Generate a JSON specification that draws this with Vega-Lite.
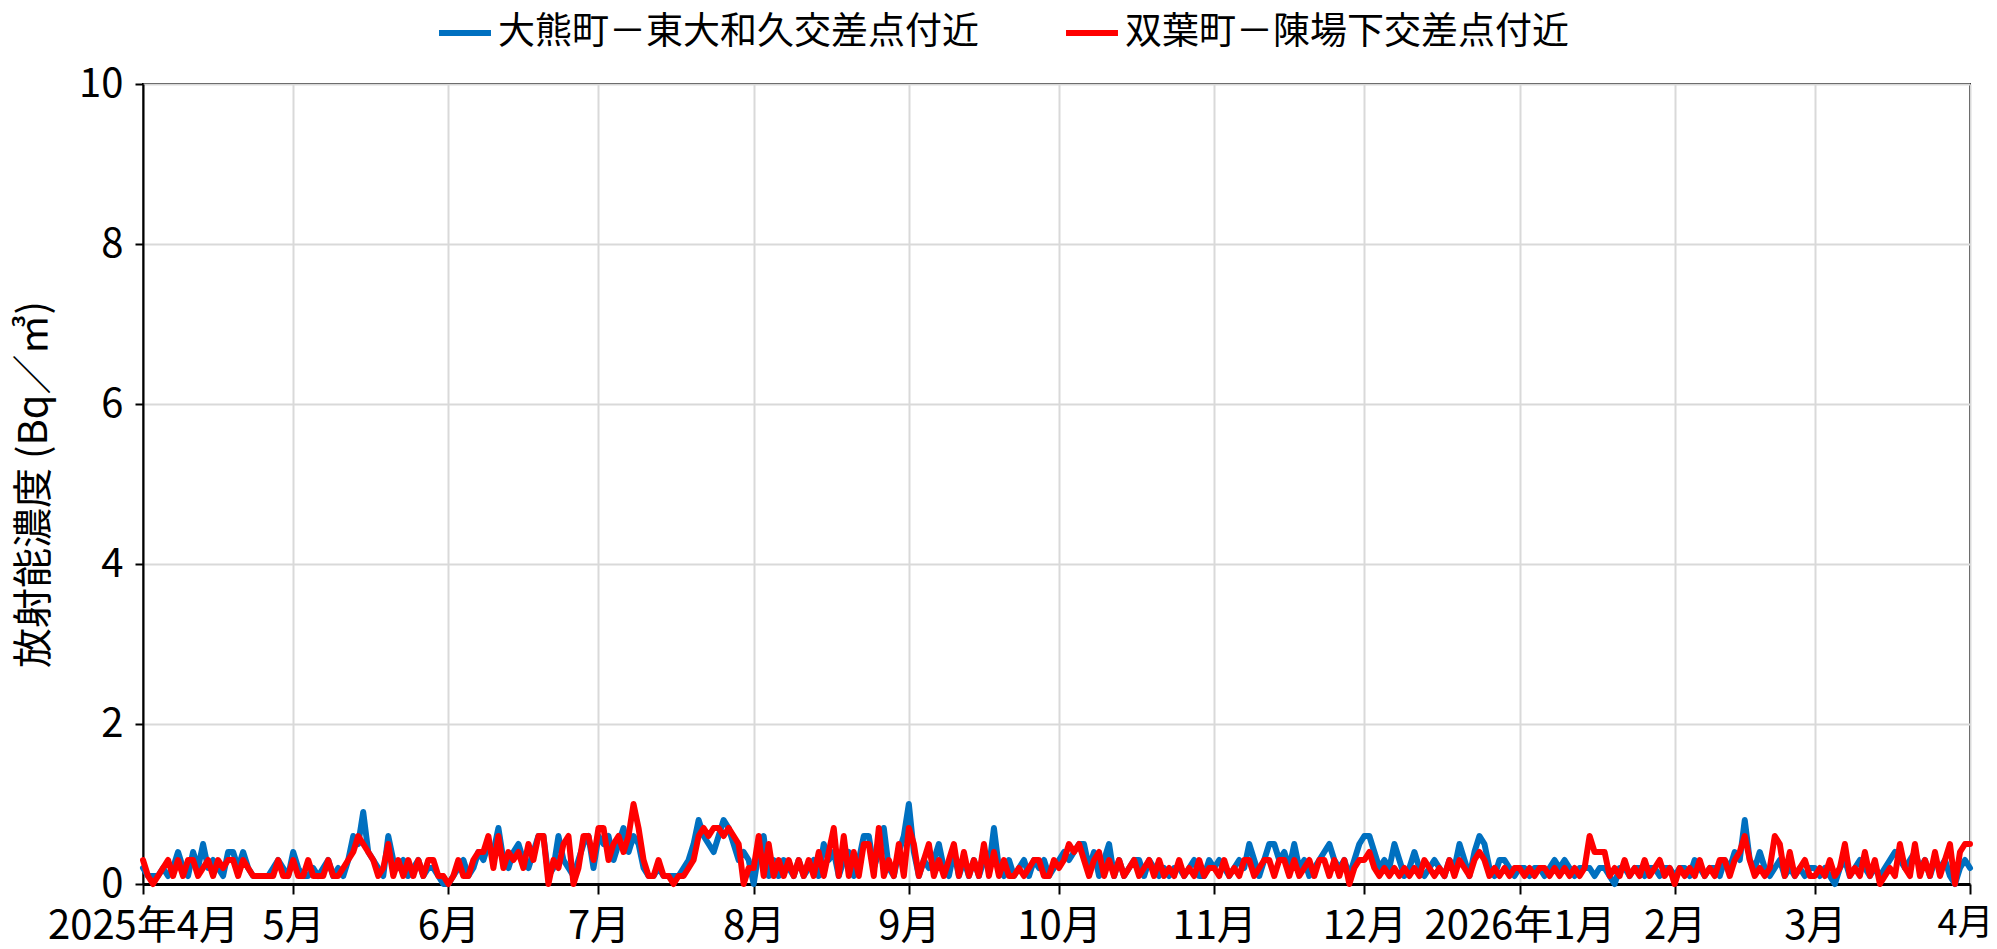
{
 "$schema": "https://vega.github.io/schema/vega-lite/v6.json",
 "width": 1827, "height": 800,
 "autosize": {"type": "none"},
 "padding": {"left": 143, "top": 84, "right": 27, "bottom": 65},
 "background": "white",
 "config": {"font": "Noto Sans CJK JP", "view": {"stroke": "#000000", "strokeWidth": 2}},
 "data": {"values": [
{"d":"2025/04/01","a":0.2,"b":0.3},{"d":"2025/04/02","a":0.1,"b":0.1},{"d":"2025/04/03","a":0.1,"b":0.0},{"d":"2025/04/04","a":0.1,"b":0.1},{"d":"2025/04/05","a":0.2,"b":0.2},{"d":"2025/04/06","a":0.1,"b":0.3},{"d":"2025/04/07","a":0.2,"b":0.1},{"d":"2025/04/08","a":0.4,"b":0.3},{"d":"2025/04/09","a":0.2,"b":0.1},{"d":"2025/04/10","a":0.1,"b":0.3},
{"d":"2025/04/11","a":0.4,"b":0.3},{"d":"2025/04/12","a":0.2,"b":0.1},{"d":"2025/04/13","a":0.5,"b":0.2},{"d":"2025/04/14","a":0.2,"b":0.3},{"d":"2025/04/15","a":0.3,"b":0.1},{"d":"2025/04/16","a":0.2,"b":0.3},{"d":"2025/04/17","a":0.1,"b":0.2},{"d":"2025/04/18","a":0.4,"b":0.3},{"d":"2025/04/19","a":0.4,"b":0.3},{"d":"2025/04/20","a":0.2,"b":0.1},
{"d":"2025/04/21","a":0.4,"b":0.3},{"d":"2025/04/22","a":0.2,"b":0.2},{"d":"2025/04/23","a":0.1,"b":0.1},{"d":"2025/04/24","a":0.1,"b":0.1},{"d":"2025/04/25","a":0.1,"b":0.1},{"d":"2025/04/26","a":0.1,"b":0.1},{"d":"2025/04/27","a":0.2,"b":0.1},{"d":"2025/04/28","a":0.3,"b":0.3},{"d":"2025/04/29","a":0.2,"b":0.1},{"d":"2025/04/30","a":0.1,"b":0.1},
{"d":"2025/05/01","a":0.4,"b":0.3},{"d":"2025/05/02","a":0.2,"b":0.1},{"d":"2025/05/03","a":0.1,"b":0.1},{"d":"2025/05/04","a":0.1,"b":0.3},{"d":"2025/05/05","a":0.2,"b":0.1},{"d":"2025/05/06","a":0.1,"b":0.1},{"d":"2025/05/07","a":0.2,"b":0.1},{"d":"2025/05/08","a":0.3,"b":0.3},{"d":"2025/05/09","a":0.1,"b":0.1},{"d":"2025/05/10","a":0.2,"b":0.1},
{"d":"2025/05/11","a":0.1,"b":0.2},{"d":"2025/05/12","a":0.3,"b":0.3},{"d":"2025/05/13","a":0.6,"b":0.4},{"d":"2025/05/14","a":0.5,"b":0.6},{"d":"2025/05/15","a":0.9,"b":0.5},{"d":"2025/05/16","a":0.4,"b":0.4},{"d":"2025/05/17","a":0.3,"b":0.3},{"d":"2025/05/18","a":0.2,"b":0.1},{"d":"2025/05/19","a":0.1,"b":0.2},{"d":"2025/05/20","a":0.6,"b":0.5},
{"d":"2025/05/21","a":0.3,"b":0.1},{"d":"2025/05/22","a":0.2,"b":0.3},{"d":"2025/05/23","a":0.3,"b":0.1},{"d":"2025/05/24","a":0.1,"b":0.3},{"d":"2025/05/25","a":0.2,"b":0.1},{"d":"2025/05/26","a":0.3,"b":0.3},{"d":"2025/05/27","a":0.1,"b":0.1},{"d":"2025/05/28","a":0.2,"b":0.3},{"d":"2025/05/29","a":0.2,"b":0.3},{"d":"2025/05/30","a":0.1,"b":0.1},
{"d":"2025/05/31","a":0.0,"b":0.1},
{"d":"2025/06/01","a":0.0,"b":0.0},{"d":"2025/06/02","a":0.1,"b":0.1},{"d":"2025/06/03","a":0.2,"b":0.3},{"d":"2025/06/04","a":0.3,"b":0.1},{"d":"2025/06/05","a":0.1,"b":0.1},{"d":"2025/06/06","a":0.2,"b":0.3},{"d":"2025/06/07","a":0.4,"b":0.4},{"d":"2025/06/08","a":0.3,"b":0.4},{"d":"2025/06/09","a":0.5,"b":0.6},{"d":"2025/06/10","a":0.4,"b":0.2},
{"d":"2025/06/11","a":0.7,"b":0.6},{"d":"2025/06/12","a":0.3,"b":0.2},{"d":"2025/06/13","a":0.2,"b":0.4},{"d":"2025/06/14","a":0.4,"b":0.3},{"d":"2025/06/15","a":0.5,"b":0.4},{"d":"2025/06/16","a":0.3,"b":0.2},{"d":"2025/06/17","a":0.2,"b":0.5},{"d":"2025/06/18","a":0.4,"b":0.3},{"d":"2025/06/19","a":0.6,"b":0.6},{"d":"2025/06/20","a":0.6,"b":0.6},
{"d":"2025/06/21","a":0.1,"b":0.0},{"d":"2025/06/22","a":0.2,"b":0.3},{"d":"2025/06/23","a":0.6,"b":0.2},{"d":"2025/06/24","a":0.3,"b":0.5},{"d":"2025/06/25","a":0.2,"b":0.6},{"d":"2025/06/26","a":0.1,"b":0.0},{"d":"2025/06/27","a":0.3,"b":0.2},{"d":"2025/06/28","a":0.5,"b":0.6},{"d":"2025/06/29","a":0.6,"b":0.6},{"d":"2025/06/30","a":0.2,"b":0.3},
{"d":"2025/07/01","a":0.6,"b":0.7},{"d":"2025/07/02","a":0.5,"b":0.7},{"d":"2025/07/03","a":0.6,"b":0.3},{"d":"2025/07/04","a":0.3,"b":0.5},{"d":"2025/07/05","a":0.5,"b":0.6},{"d":"2025/07/06","a":0.7,"b":0.4},{"d":"2025/07/07","a":0.4,"b":0.6},{"d":"2025/07/08","a":0.6,"b":1.0},{"d":"2025/07/09","a":0.5,"b":0.7},{"d":"2025/07/10","a":0.2,"b":0.3},
{"d":"2025/07/11","a":0.1,"b":0.1},{"d":"2025/07/12","a":0.1,"b":0.1},{"d":"2025/07/13","a":0.2,"b":0.3},{"d":"2025/07/14","a":0.1,"b":0.1},{"d":"2025/07/15","a":0.1,"b":0.1},{"d":"2025/07/16","a":0.1,"b":0.0},{"d":"2025/07/17","a":0.1,"b":0.1},{"d":"2025/07/18","a":0.2,"b":0.1},{"d":"2025/07/19","a":0.3,"b":0.2},{"d":"2025/07/20","a":0.5,"b":0.3},
{"d":"2025/07/21","a":0.8,"b":0.6},{"d":"2025/07/22","a":0.6,"b":0.7},{"d":"2025/07/23","a":0.5,"b":0.6},{"d":"2025/07/24","a":0.4,"b":0.7},{"d":"2025/07/25","a":0.6,"b":0.7},{"d":"2025/07/26","a":0.8,"b":0.6},{"d":"2025/07/27","a":0.7,"b":0.7},{"d":"2025/07/28","a":0.5,"b":0.6},{"d":"2025/07/29","a":0.3,"b":0.5},{"d":"2025/07/30","a":0.4,"b":0.0},
{"d":"2025/07/31","a":0.3,"b":0.2},
{"d":"2025/08/01","a":0.0,"b":0.2},{"d":"2025/08/02","a":0.4,"b":0.6},{"d":"2025/08/03","a":0.6,"b":0.1},{"d":"2025/08/04","a":0.1,"b":0.5},{"d":"2025/08/05","a":0.3,"b":0.1},{"d":"2025/08/06","a":0.1,"b":0.3},{"d":"2025/08/07","a":0.3,"b":0.1},{"d":"2025/08/08","a":0.2,"b":0.3},{"d":"2025/08/09","a":0.1,"b":0.1},{"d":"2025/08/10","a":0.3,"b":0.3},
{"d":"2025/08/11","a":0.1,"b":0.1},{"d":"2025/08/12","a":0.2,"b":0.3},{"d":"2025/08/13","a":0.3,"b":0.1},{"d":"2025/08/14","a":0.1,"b":0.4},{"d":"2025/08/15","a":0.5,"b":0.1},{"d":"2025/08/16","a":0.3,"b":0.4},{"d":"2025/08/17","a":0.4,"b":0.7},{"d":"2025/08/18","a":0.1,"b":0.1},{"d":"2025/08/19","a":0.3,"b":0.6},{"d":"2025/08/20","a":0.4,"b":0.1},
{"d":"2025/08/21","a":0.1,"b":0.4},{"d":"2025/08/22","a":0.3,"b":0.1},{"d":"2025/08/23","a":0.6,"b":0.5},{"d":"2025/08/24","a":0.6,"b":0.5},{"d":"2025/08/25","a":0.2,"b":0.1},{"d":"2025/08/26","a":0.4,"b":0.7},{"d":"2025/08/27","a":0.7,"b":0.1},{"d":"2025/08/28","a":0.2,"b":0.3},{"d":"2025/08/29","a":0.1,"b":0.1},{"d":"2025/08/30","a":0.4,"b":0.5},
{"d":"2025/08/31","a":0.6,"b":0.1},
{"d":"2025/09/01","a":1.0,"b":0.7},{"d":"2025/09/02","a":0.4,"b":0.5},{"d":"2025/09/03","a":0.1,"b":0.1},{"d":"2025/09/04","a":0.3,"b":0.3},{"d":"2025/09/05","a":0.2,"b":0.5},{"d":"2025/09/06","a":0.3,"b":0.1},{"d":"2025/09/07","a":0.5,"b":0.3},{"d":"2025/09/08","a":0.2,"b":0.1},{"d":"2025/09/09","a":0.1,"b":0.3},{"d":"2025/09/10","a":0.4,"b":0.5},
{"d":"2025/09/11","a":0.1,"b":0.1},{"d":"2025/09/12","a":0.3,"b":0.4},{"d":"2025/09/13","a":0.1,"b":0.1},{"d":"2025/09/14","a":0.3,"b":0.3},{"d":"2025/09/15","a":0.1,"b":0.1},{"d":"2025/09/16","a":0.3,"b":0.5},{"d":"2025/09/17","a":0.2,"b":0.1},{"d":"2025/09/18","a":0.7,"b":0.4},{"d":"2025/09/19","a":0.2,"b":0.1},{"d":"2025/09/20","a":0.1,"b":0.3},
{"d":"2025/09/21","a":0.3,"b":0.1},{"d":"2025/09/22","a":0.1,"b":0.1},{"d":"2025/09/23","a":0.2,"b":0.2},{"d":"2025/09/24","a":0.3,"b":0.1},{"d":"2025/09/25","a":0.1,"b":0.2},{"d":"2025/09/26","a":0.3,"b":0.3},{"d":"2025/09/27","a":0.2,"b":0.3},{"d":"2025/09/28","a":0.3,"b":0.1},{"d":"2025/09/29","a":0.1,"b":0.1},{"d":"2025/09/30","a":0.2,"b":0.3},
{"d":"2025/10/01","a":0.3,"b":0.2},{"d":"2025/10/02","a":0.4,"b":0.3},{"d":"2025/10/03","a":0.3,"b":0.5},{"d":"2025/10/04","a":0.4,"b":0.4},{"d":"2025/10/05","a":0.5,"b":0.5},{"d":"2025/10/06","a":0.5,"b":0.3},{"d":"2025/10/07","a":0.2,"b":0.1},{"d":"2025/10/08","a":0.4,"b":0.3},{"d":"2025/10/09","a":0.1,"b":0.4},{"d":"2025/10/10","a":0.3,"b":0.1},
{"d":"2025/10/11","a":0.5,"b":0.3},{"d":"2025/10/12","a":0.1,"b":0.1},{"d":"2025/10/13","a":0.3,"b":0.3},{"d":"2025/10/14","a":0.1,"b":0.1},{"d":"2025/10/15","a":0.2,"b":0.2},{"d":"2025/10/16","a":0.3,"b":0.3},{"d":"2025/10/17","a":0.3,"b":0.1},{"d":"2025/10/18","a":0.1,"b":0.2},{"d":"2025/10/19","a":0.3,"b":0.3},{"d":"2025/10/20","a":0.2,"b":0.1},
{"d":"2025/10/21","a":0.1,"b":0.3},{"d":"2025/10/22","a":0.2,"b":0.1},{"d":"2025/10/23","a":0.1,"b":0.2},{"d":"2025/10/24","a":0.2,"b":0.1},{"d":"2025/10/25","a":0.2,"b":0.3},{"d":"2025/10/26","a":0.1,"b":0.1},{"d":"2025/10/27","a":0.2,"b":0.2},{"d":"2025/10/28","a":0.3,"b":0.1},{"d":"2025/10/29","a":0.1,"b":0.3},{"d":"2025/10/30","a":0.1,"b":0.1},
{"d":"2025/10/31","a":0.3,"b":0.2},
{"d":"2025/11/01","a":0.2,"b":0.2},{"d":"2025/11/02","a":0.3,"b":0.1},{"d":"2025/11/03","a":0.2,"b":0.3},{"d":"2025/11/04","a":0.1,"b":0.1},{"d":"2025/11/05","a":0.2,"b":0.2},{"d":"2025/11/06","a":0.3,"b":0.1},{"d":"2025/11/07","a":0.2,"b":0.3},{"d":"2025/11/08","a":0.5,"b":0.3},{"d":"2025/11/09","a":0.3,"b":0.1},{"d":"2025/11/10","a":0.1,"b":0.2},
{"d":"2025/11/11","a":0.3,"b":0.3},{"d":"2025/11/12","a":0.5,"b":0.3},{"d":"2025/11/13","a":0.5,"b":0.1},{"d":"2025/11/14","a":0.3,"b":0.3},{"d":"2025/11/15","a":0.4,"b":0.3},{"d":"2025/11/16","a":0.2,"b":0.1},{"d":"2025/11/17","a":0.5,"b":0.3},{"d":"2025/11/18","a":0.2,"b":0.1},{"d":"2025/11/19","a":0.3,"b":0.2},{"d":"2025/11/20","a":0.1,"b":0.3},
{"d":"2025/11/21","a":0.2,"b":0.1},{"d":"2025/11/22","a":0.3,"b":0.3},{"d":"2025/11/23","a":0.4,"b":0.3},{"d":"2025/11/24","a":0.5,"b":0.1},{"d":"2025/11/25","a":0.3,"b":0.3},{"d":"2025/11/26","a":0.2,"b":0.1},{"d":"2025/11/27","a":0.3,"b":0.3},{"d":"2025/11/28","a":0.1,"b":0.0},{"d":"2025/11/29","a":0.3,"b":0.2},{"d":"2025/11/30","a":0.5,"b":0.3},
{"d":"2025/12/01","a":0.6,"b":0.3},{"d":"2025/12/02","a":0.6,"b":0.4},{"d":"2025/12/03","a":0.4,"b":0.2},{"d":"2025/12/04","a":0.2,"b":0.1},{"d":"2025/12/05","a":0.3,"b":0.2},{"d":"2025/12/06","a":0.2,"b":0.1},{"d":"2025/12/07","a":0.5,"b":0.2},{"d":"2025/12/08","a":0.3,"b":0.1},{"d":"2025/12/09","a":0.1,"b":0.2},{"d":"2025/12/10","a":0.2,"b":0.1},
{"d":"2025/12/11","a":0.4,"b":0.2},{"d":"2025/12/12","a":0.2,"b":0.1},{"d":"2025/12/13","a":0.1,"b":0.3},{"d":"2025/12/14","a":0.2,"b":0.2},{"d":"2025/12/15","a":0.3,"b":0.1},{"d":"2025/12/16","a":0.2,"b":0.2},{"d":"2025/12/17","a":0.1,"b":0.1},{"d":"2025/12/18","a":0.3,"b":0.3},{"d":"2025/12/19","a":0.2,"b":0.1},{"d":"2025/12/20","a":0.5,"b":0.3},
{"d":"2025/12/21","a":0.3,"b":0.2},{"d":"2025/12/22","a":0.1,"b":0.1},{"d":"2025/12/23","a":0.4,"b":0.3},{"d":"2025/12/24","a":0.6,"b":0.4},{"d":"2025/12/25","a":0.5,"b":0.3},{"d":"2025/12/26","a":0.2,"b":0.1},{"d":"2025/12/27","a":0.1,"b":0.2},{"d":"2025/12/28","a":0.3,"b":0.1},{"d":"2025/12/29","a":0.3,"b":0.2},{"d":"2025/12/30","a":0.2,"b":0.1},
{"d":"2025/12/31","a":0.1,"b":0.2},
{"d":"2026/01/01","a":0.2,"b":0.2},{"d":"2026/01/02","a":0.2,"b":0.1},{"d":"2026/01/03","a":0.1,"b":0.2},{"d":"2026/01/04","a":0.2,"b":0.1},{"d":"2026/01/05","a":0.2,"b":0.2},{"d":"2026/01/06","a":0.1,"b":0.2},{"d":"2026/01/07","a":0.2,"b":0.1},{"d":"2026/01/08","a":0.3,"b":0.2},{"d":"2026/01/09","a":0.2,"b":0.1},{"d":"2026/01/10","a":0.3,"b":0.2},
{"d":"2026/01/11","a":0.2,"b":0.1},{"d":"2026/01/12","a":0.1,"b":0.2},{"d":"2026/01/13","a":0.2,"b":0.1},{"d":"2026/01/14","a":0.2,"b":0.2},{"d":"2026/01/15","a":0.2,"b":0.6},{"d":"2026/01/16","a":0.1,"b":0.4},{"d":"2026/01/17","a":0.2,"b":0.4},{"d":"2026/01/18","a":0.2,"b":0.4},{"d":"2026/01/19","a":0.1,"b":0.1},{"d":"2026/01/20","a":0.0,"b":0.2},
{"d":"2026/01/21","a":0.2,"b":0.1},{"d":"2026/01/22","a":0.2,"b":0.3},{"d":"2026/01/23","a":0.1,"b":0.1},{"d":"2026/01/24","a":0.2,"b":0.2},{"d":"2026/01/25","a":0.2,"b":0.1},{"d":"2026/01/26","a":0.1,"b":0.3},{"d":"2026/01/27","a":0.2,"b":0.1},{"d":"2026/01/28","a":0.2,"b":0.2},{"d":"2026/01/29","a":0.1,"b":0.3},{"d":"2026/01/30","a":0.2,"b":0.1},
{"d":"2026/01/31","a":0.2,"b":0.2},
{"d":"2026/02/01","a":0.1,"b":0.0},{"d":"2026/02/02","a":0.2,"b":0.2},{"d":"2026/02/03","a":0.2,"b":0.1},{"d":"2026/02/04","a":0.1,"b":0.2},{"d":"2026/02/05","a":0.3,"b":0.1},{"d":"2026/02/06","a":0.2,"b":0.3},{"d":"2026/02/07","a":0.1,"b":0.1},{"d":"2026/02/08","a":0.2,"b":0.2},{"d":"2026/02/09","a":0.2,"b":0.1},{"d":"2026/02/10","a":0.1,"b":0.3},
{"d":"2026/02/11","a":0.3,"b":0.3},{"d":"2026/02/12","a":0.2,"b":0.1},{"d":"2026/02/13","a":0.4,"b":0.3},{"d":"2026/02/14","a":0.3,"b":0.4},{"d":"2026/02/15","a":0.8,"b":0.6},{"d":"2026/02/16","a":0.3,"b":0.3},{"d":"2026/02/17","a":0.2,"b":0.1},{"d":"2026/02/18","a":0.4,"b":0.2},{"d":"2026/02/19","a":0.2,"b":0.1},{"d":"2026/02/20","a":0.1,"b":0.2},
{"d":"2026/02/21","a":0.2,"b":0.6},{"d":"2026/02/22","a":0.3,"b":0.5},{"d":"2026/02/23","a":0.1,"b":0.1},{"d":"2026/02/24","a":0.2,"b":0.4},{"d":"2026/02/25","a":0.1,"b":0.1},{"d":"2026/02/26","a":0.2,"b":0.2},{"d":"2026/02/27","a":0.1,"b":0.3},{"d":"2026/02/28","a":0.2,"b":0.1},
{"d":"2026/03/01","a":0.2,"b":0.1},{"d":"2026/03/02","a":0.1,"b":0.2},{"d":"2026/03/03","a":0.2,"b":0.1},{"d":"2026/03/04","a":0.1,"b":0.3},{"d":"2026/03/05","a":0.0,"b":0.1},{"d":"2026/03/06","a":0.2,"b":0.2},{"d":"2026/03/07","a":0.3,"b":0.5},{"d":"2026/03/08","a":0.1,"b":0.1},{"d":"2026/03/09","a":0.2,"b":0.2},{"d":"2026/03/10","a":0.3,"b":0.1},
{"d":"2026/03/11","a":0.2,"b":0.4},{"d":"2026/03/12","a":0.1,"b":0.1},{"d":"2026/03/13","a":0.2,"b":0.3},{"d":"2026/03/14","a":0.1,"b":0.0},{"d":"2026/03/15","a":0.2,"b":0.1},{"d":"2026/03/16","a":0.3,"b":0.2},{"d":"2026/03/17","a":0.4,"b":0.1},{"d":"2026/03/18","a":0.3,"b":0.5},{"d":"2026/03/19","a":0.2,"b":0.2},{"d":"2026/03/20","a":0.3,"b":0.1},
{"d":"2026/03/21","a":0.4,"b":0.5},{"d":"2026/03/22","a":0.2,"b":0.1},{"d":"2026/03/23","a":0.3,"b":0.3},{"d":"2026/03/24","a":0.1,"b":0.1},{"d":"2026/03/25","a":0.3,"b":0.4},{"d":"2026/03/26","a":0.2,"b":0.1},{"d":"2026/03/27","a":0.3,"b":0.3},{"d":"2026/03/28","a":0.1,"b":0.5},{"d":"2026/03/29","a":0.0,"b":0.0},{"d":"2026/03/30","a":0.2,"b":0.4},
{"d":"2026/03/31","a":0.3,"b":0.5},{"d":"2026/04/01","a":0.2,"b":0.5}
 ]},
 "transform": [{"fold": ["a", "b"], "as": ["key", "value"]}],
 "mark": {"type": "line", "strokeWidth": 6, "strokeJoin": "round", "strokeCap": "round"},
 "encoding": {
  "x": {"field": "d", "type": "temporal",
   "scale": {"domain": [{"year": 2025, "month": 4, "date": 1}, {"year": 2026, "month": 4, "date": 1}]},
   "axis": {"title": null,
    "values": [{"year":2025,"month":4,"date":1},{"year":2025,"month":5,"date":1},{"year":2025,"month":6,"date":1},{"year":2025,"month":7,"date":1},{"year":2025,"month":8,"date":1},{"year":2025,"month":9,"date":1},{"year":2025,"month":10,"date":1},{"year":2025,"month":11,"date":1},{"year":2025,"month":12,"date":1},{"year":2026,"month":1,"date":1},{"year":2026,"month":2,"date":1},{"year":2026,"month":3,"date":1},{"year":2026,"month":4,"date":1}],
    "labelExpr": "(month(datum.value) == 0 || (year(datum.value) == 2025 && month(datum.value) == 3)) ? year(datum.value) + '年' + (month(datum.value) + 1) + '月' : (month(datum.value) + 1) + '月'",
    "grid": true, "gridColor": "#d9d9d9", "gridWidth": 2,
    "domainColor": "#000000", "domainWidth": 3,
    "tickColor": "#000000", "tickWidth": 2, "tickSize": 10,
    "labelFontSize": {"condition": {"test": "year(datum.value) == 2026 && month(datum.value) == 3", "value": 36}, "value": 40},
    "labelOffset": {"condition": {"test": "year(datum.value) == 2026 && month(datum.value) == 3", "value": -5}, "value": 0},
    "labelLimit": 500,
    "labelColor": "#000000", "labelPadding": 12,
    "labelOverlap": false, "labelFlush": false, "labelBound": false}},
  "y": {"field": "value", "type": "quantitative",
   "scale": {"domain": [0, 10]},
   "axis": {"title": "放射能濃度 (Bq／㎥)", "values": [0, 2, 4, 6, 8, 10],
    "grid": true, "gridColor": "#d9d9d9", "gridWidth": 2,
    "domainColor": "#000000", "domainWidth": 2,
    "tickColor": "#000000", "tickWidth": 2, "tickSize": 8,
    "labelFontSize": 40, "labelColor": "#000000", "labelPadding": 12,
    "titleFontSize": 40, "titleFontWeight": "normal", "titleColor": "#000000",
    "titleX": -109, "titleY": 400, "titleAngle": 270, "titleAlign": "center", "titleBaseline": "middle"}},
  "color": {"field": "key", "type": "nominal",
   "scale": {"domain": ["a", "b"], "range": ["#0070C0", "#FF0000"]},
   "legend": {"orient": "none", "legendX": 293, "legendY": -80, "direction": "horizontal", "title": null,
    "symbolType": "stroke", "symbolStrokeWidth": 6, "symbolSize": 2700,
    "labelFontSize": 37, "labelColor": "#000000", "labelLimit": 1000, "columnPadding": 75, "labelOffset": 4,
    "labelExpr": "datum.label == 'a' ? '大熊町－東大和久交差点付近' : '双葉町－陳場下交差点付近'"}}
 }
}
